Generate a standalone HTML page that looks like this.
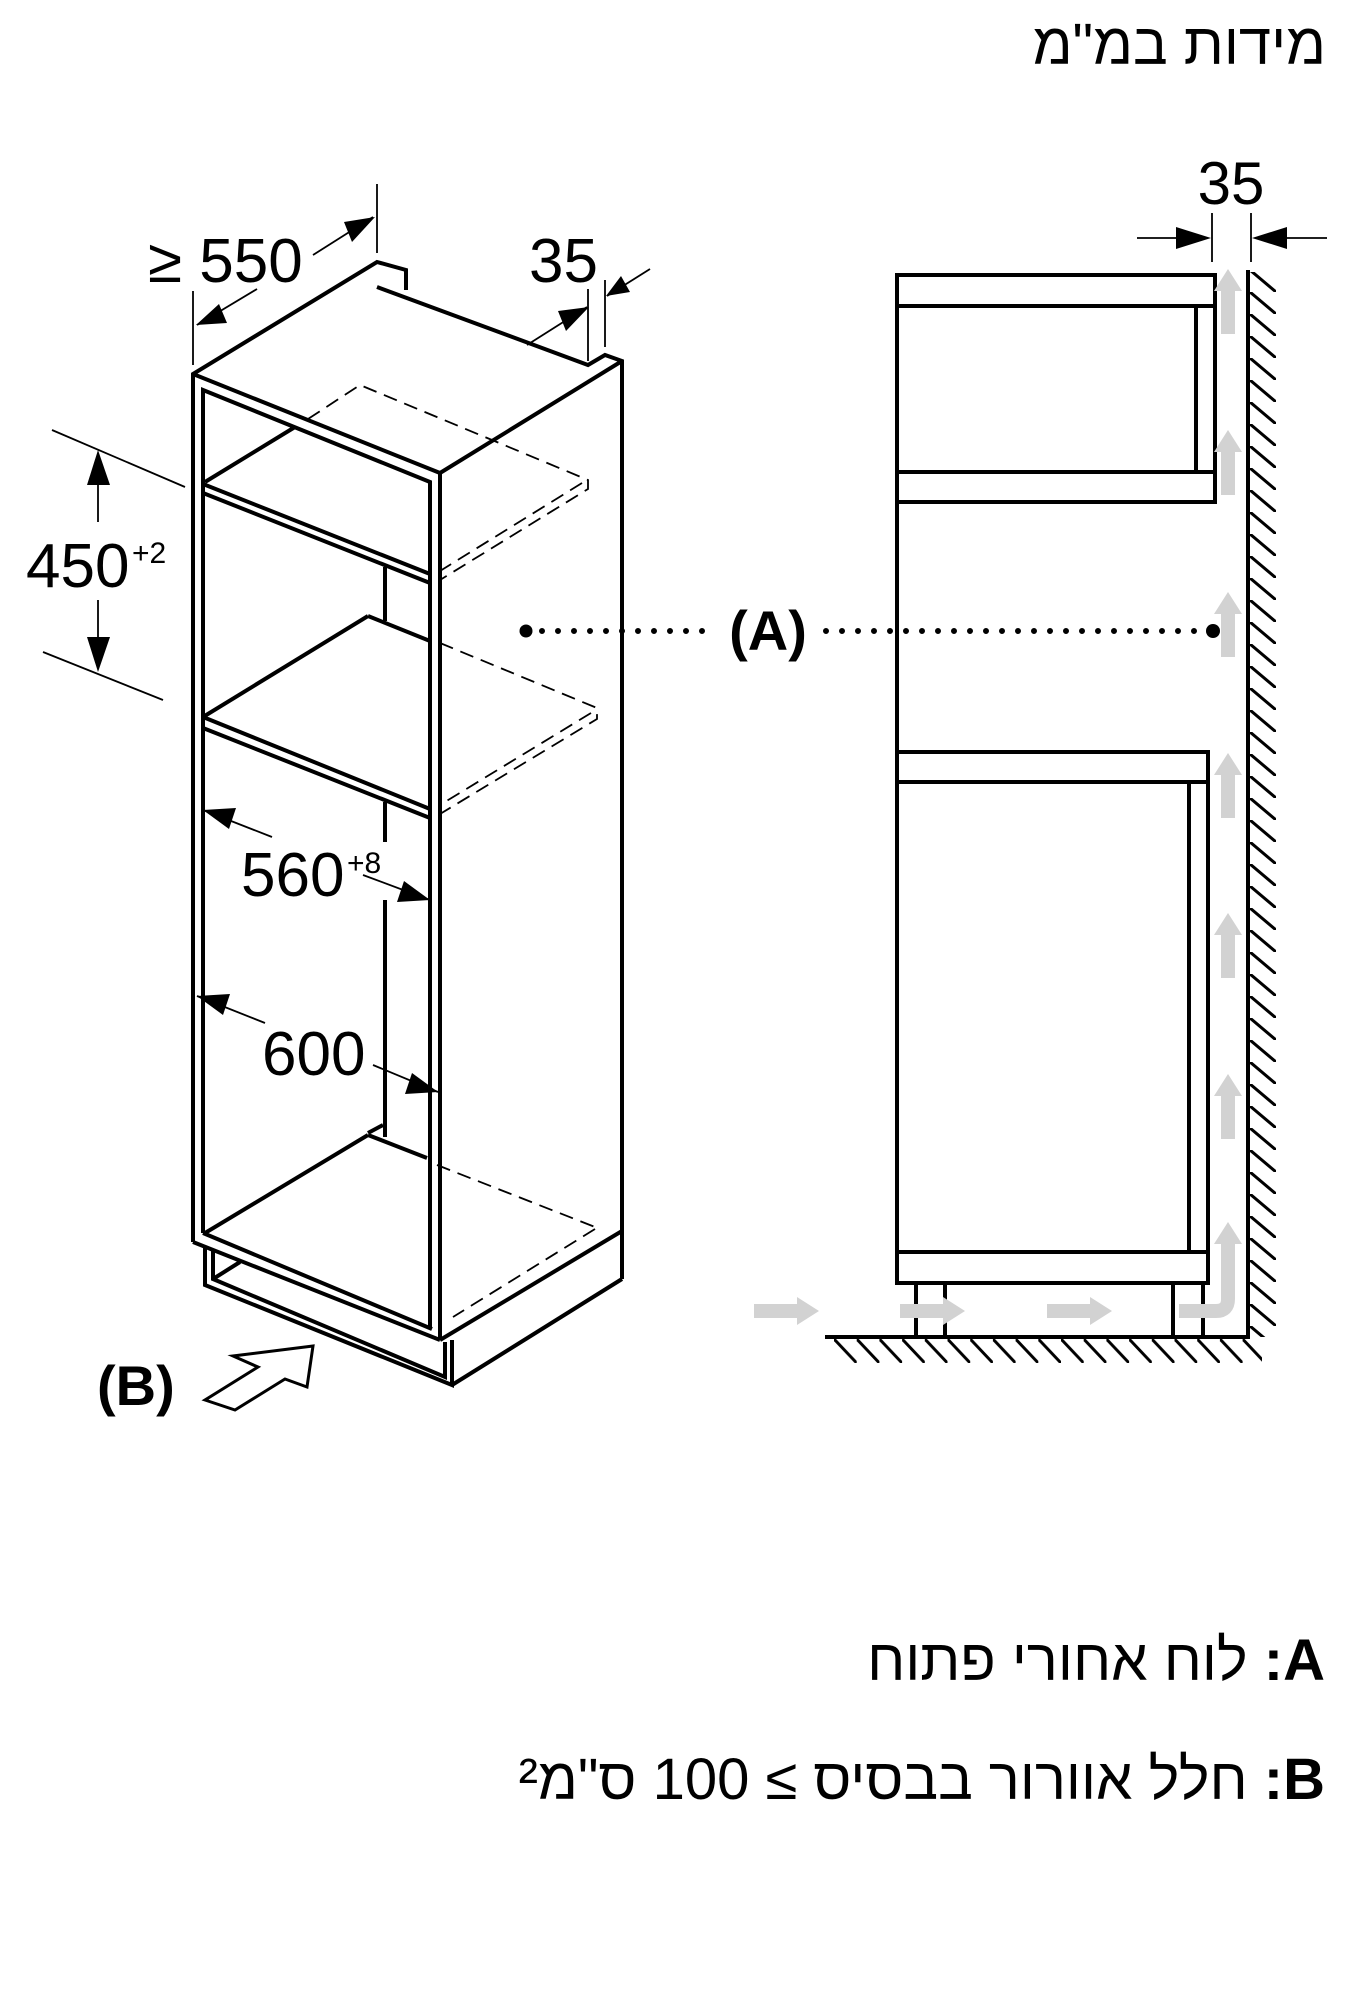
<!DOCTYPE html>
<html><head><meta charset="utf-8">
<style>
html,body{margin:0;padding:0;background:#fff;}
body{width:1345px;height:2000px;position:relative;overflow:hidden;font-family:"Liberation Sans","DejaVu Sans",sans-serif;}
svg{position:absolute;left:0;top:0;}
.leg{position:absolute;right:20px;font-size:58px;color:#000;white-space:nowrap;direction:rtl;}
.title{position:absolute;right:19px;top:16px;font-size:58px;line-height:1;color:#000;white-space:nowrap;direction:rtl;}
</style></head><body>
<svg width="1345" height="2000" viewBox="0 0 1345 2000" xmlns="http://www.w3.org/2000/svg">
<defs>
<pattern id="wh" patternUnits="userSpaceOnUse" x="1250" y="270" width="26" height="22">
<line x1="0" y1="0" x2="26" y2="22" stroke="#000" stroke-width="3"/>
</pattern>
<pattern id="fh" patternUnits="userSpaceOnUse" x="834" y="1339" width="22.7" height="24">
<line x1="0" y1="0" x2="22.7" y2="24" stroke="#000" stroke-width="3"/>
</pattern>
</defs>

<!-- ===== LEFT CABINET ===== -->
<g stroke="#000" stroke-width="4" fill="none" stroke-linejoin="miter">
<polyline points="193,1242 193,374 377,262 406,270 406,290"/>
<polyline points="377,287 588,365 605,355 622,361 622,1279"/>
<line x1="193" y1="374" x2="440" y2="473"/>
<line x1="440" y1="473" x2="622" y2="361"/>
<line x1="440" y1="473" x2="440" y2="1340"/>
<polyline points="203,1233 203,390 430,482 430,1329"/>
<line x1="203" y1="484" x2="430" y2="574"/>
<line x1="203" y1="493" x2="430" y2="583"/>
<line x1="205" y1="482" x2="295" y2="427"/>
<line x1="385" y1="567" x2="385" y2="621"/>
<line x1="203" y1="717" x2="368" y2="616"/>
<line x1="368" y1="616" x2="430" y2="641"/>
<line x1="203" y1="717" x2="430" y2="809"/>
<line x1="203" y1="728" x2="430" y2="818"/>
<line x1="385" y1="802" x2="385" y2="842"/>
<line x1="385" y1="900" x2="385" y2="1137"/>
<line x1="205" y1="1233" x2="368" y2="1135"/>
<line x1="368" y1="1135" x2="427" y2="1158"/>
<line x1="368" y1="1133" x2="383" y2="1125"/>
<line x1="203" y1="1233" x2="432" y2="1329"/>
<line x1="193" y1="1242" x2="440" y2="1340"/>
<line x1="440" y1="1340" x2="622" y2="1231"/>
<polyline points="205,1246 205,1285 452,1385 452,1340"/>
<polyline points="213,1250 213,1279 445,1377 445,1342"/>
<line x1="213" y1="1279" x2="240" y2="1262"/>
<line x1="452" y1="1385" x2="622" y2="1279"/>
</g>
<g stroke="#000" stroke-width="1.8" fill="none" stroke-dasharray="14 8">
<polyline points="308,419 360,385 588,480 588,489 440,580"/>
<line x1="582" y1="483" x2="440" y2="571"/>
<polyline points="440,643 597,708 597,719 440,814"/>
<line x1="591" y1="713" x2="440" y2="805"/>
<line x1="437" y1="1165" x2="595" y2="1227"/>
<line x1="595" y1="1229" x2="453" y2="1317"/>
</g>

<g stroke="#000" stroke-width="1.8" fill="none">
<line x1="377" y1="184" x2="377" y2="253"/>
<line x1="193" y1="291" x2="193" y2="365"/>
<line x1="313" y1="255" x2="373" y2="217"/>
<line x1="257" y1="289" x2="197" y2="325"/>
<line x1="588" y1="289" x2="588" y2="361"/>
<line x1="605" y1="280" x2="605" y2="347"/>
<line x1="527" y1="345" x2="587" y2="307"/>
<line x1="650" y1="269" x2="607" y2="296"/>
<line x1="52" y1="430" x2="185" y2="487"/>
<line x1="43" y1="652" x2="163" y2="700"/>
<line x1="98" y1="485" x2="98" y2="522"/>
<line x1="98" y1="600" x2="98" y2="640"/>
<line x1="203" y1="810" x2="272" y2="837"/>
<line x1="363" y1="875" x2="430" y2="900"/>
<line x1="197" y1="996" x2="265" y2="1023"/>
<line x1="373" y1="1065" x2="438" y2="1092"/>
</g>
<g fill="#000" stroke="none">
<polygon points="375,217 344,222 352,242"/>
<polygon points="196,325 219,304 227,323"/>
<polygon points="589,307 558,311 566,331"/>
<polygon points="606,296 621,276 630,292"/>
<polygon points="98,450 87,485 110,485"/>
<polygon points="98,672 87,637 110,637"/>
<polygon points="203,810 236,808 229,829"/>
<polygon points="430,900 397,902 404,881"/>
<polygon points="197,996 230,994 223,1015"/>
<polygon points="438,1092 405,1094 412,1073"/>
</g>
<g font-family="Liberation Sans, Arial, sans-serif" fill="#000">
<text x="148" y="282" font-size="62">≥ 550</text>
<text x="529" y="282" font-size="62">35</text>
<text x="26" y="587" font-size="62">450</text>
<text x="132" y="563" font-size="30">+2</text>
<text x="241" y="896" font-size="62">560</text>
<text x="347" y="873" font-size="30">+8</text>
<text x="262" y="1075" font-size="62">600</text>
<text x="97" y="1405" font-size="56" font-weight="bold">(B)</text>
</g>
<polygon points="205,1400 235,1410 285,1379 307,1387 313,1346 233,1356 258,1367" fill="#fff" stroke="#000" stroke-width="3" stroke-linejoin="miter"/>

<!-- ===== RIGHT SIDE VIEW ===== -->
<rect x="1250" y="272" width="26" height="1065" fill="url(#wh)"/>
<rect x="834" y="1339" width="428" height="24" fill="url(#fh)"/>
<g stroke="#000" stroke-width="4" fill="none">
<line x1="1248" y1="270" x2="1248" y2="1339"/>
<line x1="825" y1="1337" x2="1250" y2="1337"/>
<rect x="897" y="275" width="318" height="31"/>
<rect x="897" y="472" width="318" height="30"/>
<line x1="1196" y1="306" x2="1196" y2="472"/>
<line x1="1215" y1="306" x2="1215" y2="472"/>
<line x1="897" y1="275" x2="897" y2="1283"/>
<rect x="897" y="752" width="311" height="30"/>
<rect x="897" y="1252" width="311" height="31"/>
<line x1="1189" y1="782" x2="1189" y2="1252"/>
<line x1="1208" y1="782" x2="1208" y2="1252"/>
<line x1="916" y1="1283" x2="916" y2="1337"/>
<line x1="945" y1="1283" x2="945" y2="1337"/>
<line x1="1173" y1="1283" x2="1173" y2="1337"/>
<line x1="1203" y1="1283" x2="1203" y2="1337"/>
</g>
<g fill="#d2d2d2" stroke="none">
<g id="ua"><polygon points="1228,269 1214,291 1221,291 1221,334 1235,334 1235,291 1242,291"/></g>
<use href="#ua" y="161"/>
<use href="#ua" y="323"/>
<use href="#ua" y="484"/>
<use href="#ua" y="644"/>
<use href="#ua" y="805"/>
<polygon points="1228,1222 1214,1244 1242,1244"/>
<g id="ha"><polygon points="819,1311 797,1297 797,1304 754,1304 754,1318 797,1318 797,1325"/></g>
<use href="#ha" x="146"/>
<use href="#ha" x="293"/>
</g>
<path d="M1179,1311 H1216 Q1228,1311 1228,1299 V1242" stroke="#d2d2d2" stroke-width="14" fill="none"/>
<g stroke="#000" stroke-width="1.8">
<line x1="1212" y1="213" x2="1212" y2="262"/>
<line x1="1251" y1="213" x2="1251" y2="262"/>
<line x1="1137" y1="238" x2="1180" y2="238"/>
<line x1="1282" y1="238" x2="1327" y2="238"/>
</g>
<polygon points="1211,238 1176,227 1176,249" fill="#000"/>
<polygon points="1252,238 1287,227 1287,249" fill="#000"/>
<text x="1231" y="204" font-size="60" text-anchor="middle" font-family="Liberation Sans, Arial, sans-serif">35</text>
<line x1="542" y1="631" x2="714" y2="631" stroke="#000" stroke-width="6" stroke-linecap="round" stroke-dasharray="0 16"/>
<line x1="826" y1="631" x2="1200" y2="631" stroke="#000" stroke-width="6" stroke-linecap="round" stroke-dasharray="0 16"/>
<circle cx="526" cy="631" r="6.5" fill="#000"/>
<circle cx="1213" cy="631" r="7" fill="#000"/>
<text x="768" y="650" font-size="56" font-weight="bold" text-anchor="middle" font-family="Liberation Sans, Arial, sans-serif">(A)</text>
</svg>
<div class="title" dir="rtl">מידות במ"מ</div>
<div class="leg" style="top:1627px;" dir="rtl"><b>A:</b> לוח אחורי פתוח</div>
<div class="leg" style="top:1746px;" dir="rtl"><b>B:</b> חלל אוורור בבסיס ≥ 100 ס"מ²</div>
</body></html>
